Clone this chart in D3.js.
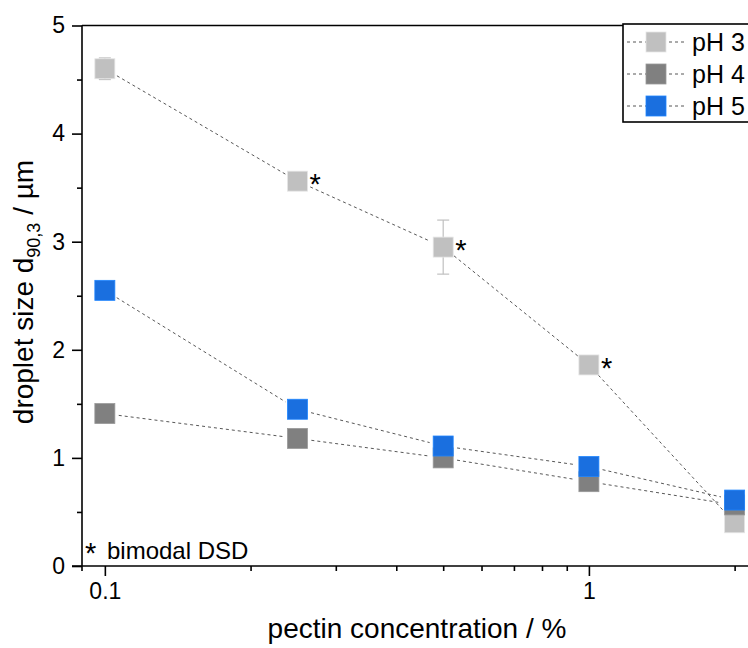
<!DOCTYPE html>
<html>
<head>
<meta charset="utf-8">
<script src="https://cdn.jsdelivr.net/npm/d3@7"></script>
<style>
  body { margin: 0; background: #fff; }
  text { font-family: "Liberation Sans", Arial, sans-serif; fill: #000; }
</style>
</head>
<body>
<div id="chart"></div>
<script>
// data
var conc = [0.1, 0.25, 0.5, 1, 2];
var seriesNames = ["pH 3", "pH 4", "pH 5"];
var pH3 = [4.60, 3.56, 2.95, 1.86, 0.40];
var pH3Err = [0.10, 0.02, 0.25, 0.03, 0.02];
var pH4 = [1.41, 1.18, 1.00, 0.78, 0.565];
var pH4Err = [0.02, 0.02, 0.03, 0.02, 0.02];
var pH5 = [2.55, 1.45, 1.11, 0.92, 0.61];
var pH5Err = [0.02, 0.02, 0.03, 0.02, 0.06];
var bimodal = [false, true, true, true, false]; // pH 3 only
var yTicks = [0, 1, 2, 3, 4, 5];
var xTicks = [0.1, 1];

var colors = ["#c0c0c0", "#808080", "#1a6fdf"];
var series = [
    { name: seriesNames[0], values: pH3, err: pH3Err, color: colors[0] },
    { name: seriesNames[1], values: pH4, err: pH4Err, color: colors[1] },
    { name: seriesNames[2], values: pH5, err: pH5Err, color: colors[2] }
];

var W = 748, H = 648;
var margin = { top: 25, left: 82, bottom: 82 };
var plotBottom = H - margin.bottom; // 566

var svg = d3.select("#chart").append("svg")
    .attr("width", W)
    .attr("height", H);

var x = d3.scaleLog()
    .domain([0.0897, 2.3])
    .range([margin.left, margin.left + 508 + 174]);
var y = d3.scaleLinear()
    .domain([0, 5])
    .range([plotBottom, margin.top + 0.5]);

/*********************
 * AXES
*********************/
var minorX = [0.2, 0.3, 0.4, 0.5, 0.6, 0.7, 0.8, 0.9, 2];
var xAxis = svg.append("g")
    .attr("transform", "translate(0," + plotBottom + ")");
xAxis.call(d3.axisBottom(x).tickValues(xTicks).tickFormat(d3.format("")).tickSize(10).tickPadding(7).tickSizeOuter(0));
xAxis.append("g").call(d3.axisBottom(x).tickValues(minorX).tickFormat("").tickSize(5).tickSizeOuter(0))
    .select(".domain").remove();
xAxis.selectAll("text").style("font-size", "23px");
xAxis.selectAll("line, path").attr("stroke", "#000").attr("stroke-width", 1.6);
// extend x axis line to the left to meet the 0 tick
xAxis.select(".domain").attr("d", "M" + (margin.left - 10) + ",0H" + W);

var yAxis = svg.append("g")
    .attr("transform", "translate(" + margin.left + ",0)");
yAxis.call(d3.axisLeft(y).tickValues(yTicks).tickFormat(d3.format("d")).tickSize(10).tickPadding(7).tickSizeOuter(0));
yAxis.append("g").call(d3.axisLeft(y).tickValues(d3.range(0.5, 5, 1)).tickFormat("").tickSize(5).tickSizeOuter(0))
    .select(".domain").remove();
yAxis.selectAll("text").style("font-size", "23px");
yAxis.selectAll("line, path").attr("stroke", "#000").attr("stroke-width", 1.6);
yAxis.select(".domain").attr("d", "M0," + (plotBottom + 5) + "V" + y(5));

// top frame
svg.append("line")
    .attr("x1", margin.left).attr("x2", W)
    .attr("y1", y(5)).attr("y2", y(5))
    .attr("stroke", "#000").attr("stroke-width", 1.6);

// axis titles
svg.append("text")
    .attr("x", 417).attr("y", 638)
    .attr("text-anchor", "middle")
    .style("font-size", "28px")
    .text("pectin concentration / %");

var yt = svg.append("text")
    .attr("transform", "translate(33," + 292 + ") rotate(-90)")
    .attr("text-anchor", "middle")
    .style("font-size", "28px");
yt.append("tspan").text("droplet size d");
yt.append("tspan").attr("dy", 7).style("font-size", "18px").text("90,3");
yt.append("tspan").attr("dy", -7).text(" / µm");

/*********************
 * LINES
*********************/
var gap = 14;
series.forEach(function (s) {
    var pts = conc.map(function (c, i) { return [x(c), y(s.values[i])]; });
    for (var i = 0; i < pts.length - 1; i++) {
        var a = pts[i], b = pts[i + 1];
        var dx = b[0] - a[0], dy = b[1] - a[1];
        var len = Math.sqrt(dx * dx + dy * dy);
        if (len < 2 * gap) continue;
        var ux = dx / len, uy = dy / len;
        svg.append("line")
            .attr("x1", a[0] + ux * gap).attr("y1", a[1] + uy * gap)
            .attr("x2", b[0] - ux * gap).attr("y2", b[1] - uy * gap)
            .attr("stroke", "#444")
            .attr("stroke-width", 0.9)
            .attr("stroke-dasharray", "3,3");
    }
});

/*********************
 * MARKERS + ERROR BARS
*********************/
var sz = 20;
series.forEach(function (s) {
    var g = svg.append("g");
    conc.forEach(function (c, i) {
        var cx = x(c), cy = y(s.values[i]);
        g.append("line")
            .attr("x1", cx).attr("x2", cx)
            .attr("y1", y(s.values[i] + s.err[i])).attr("y2", y(s.values[i] - s.err[i]))
            .attr("stroke", s.color).attr("stroke-width", 1.2);
        [s.values[i] + s.err[i], s.values[i] - s.err[i]].forEach(function (v) {
            g.append("line")
                .attr("x1", cx - 6).attr("x2", cx + 6)
                .attr("y1", y(v)).attr("y2", y(v))
                .attr("stroke", s.color).attr("stroke-width", 1.2);
        });
        g.append("rect")
            .attr("x", cx - sz / 2).attr("y", cy - sz / 2)
            .attr("width", sz).attr("height", sz)
            .attr("fill", s.color)
            .attr("stroke", d3.color(s.color).brighter(0.5))
            .attr("stroke-width", 0.8);
    });
});

// bimodal markers (pH 3)
conc.forEach(function (c, i) {
    if (!bimodal[i]) return;
    svg.append("text")
        .attr("x", x(c) + 12).attr("y", y(pH3[i]) + 13)
        .style("font-size", "29px")
        .text("*");
});

svg.append("text")
    .attr("x", 85).attr("y", 563)
    .style("font-size", "29px")
    .text("*");
svg.append("text")
    .attr("x", 107).attr("y", 559)
    .style("font-size", "24px")
    .text("bimodal DSD");

/*********************
 * LEGEND
*********************/
var legend = svg.append("g").attr("transform", "translate(623,24)");
legend.append("rect")
    .attr("x", 0).attr("y", 0)
    .attr("width", 140).attr("height", 98)
    .attr("fill", "#fff").attr("stroke", "#000").attr("stroke-width", 1.6);
series.forEach(function (s, i) {
    var ly = 18 + i * 32;
    legend.append("line")
        .attr("x1", 4).attr("x2", 62).attr("y1", ly).attr("y2", ly)
        .attr("stroke", "#444").attr("stroke-width", 0.9).attr("stroke-dasharray", "3,3");
    legend.append("rect")
        .attr("x", 23).attr("y", ly - 10).attr("width", 20).attr("height", 20)
        .attr("fill", s.color)
        .attr("stroke", d3.color(s.color).brighter(0.5)).attr("stroke-width", 0.8);
    legend.append("text")
        .attr("x", 69).attr("y", ly + 9)
        .style("font-size", "25px")
        .text(s.name);
});
</script>
</body>
</html>
